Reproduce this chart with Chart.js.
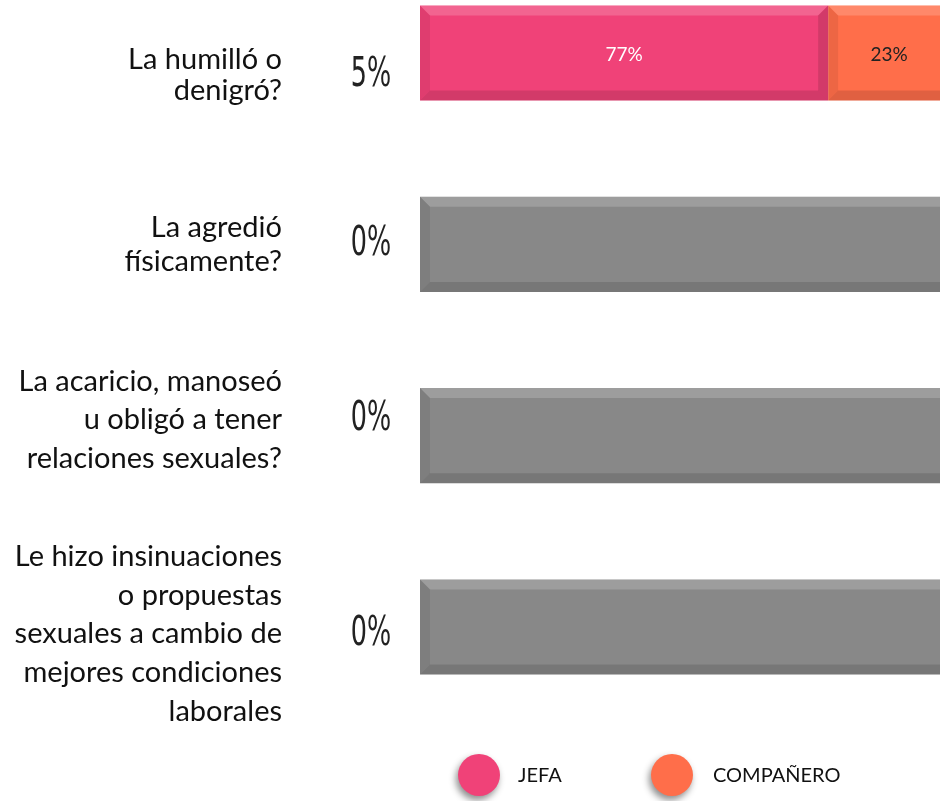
<!DOCTYPE html>
<html>
<head>
<meta charset="utf-8">
<script src="https://cdn.jsdelivr.net/npm/chart.js@4.4.0/dist/chart.umd.min.js"></script>
<style>
  html, body { margin: 0; padding: 0; background: #fff; }
  #wrap { width: 940px; height: 801px; position: relative; }
</style>
</head>
<body>
<div id="wrap"><canvas id="chart"></canvas></div>
<script>
// datos del gráfico
const categories = [
    ['La humilló o', 'denigró?'],
    ['La agredió', 'físicamente?'],
    ['La acaricio, manoseó', 'u obligó a tener', 'relaciones sexuales?'],
    ['Le hizo insinuaciones', 'o propuestas', 'sexuales a cambio de', 'mejores condiciones', 'laborales']
];
const totalPct = [5, 0, 0, 0];      // % que respondió sí
const jefa = [77, 0, 0, 0];
const companero = [23, 0, 0, 0];
const sinCasos = [0, 100, 100, 100];
const legendNames = ['JEFA', 'COMPAÑERO'];

// estilos
const colors = { jefa: '#F04278', companero: '#FF6E4A', gris: '#888888' };
const labelLineGap = [31, 34, 38.5, 38.7];
const labelShift = [22, 0, -16, 7];

// etiquetas de categorías y porcentaje total
const sideLabels = {
    id: 'sideLabels',
    afterDraw(chart) {
        const ctx = chart.ctx;
        const y = chart.scales.y;
        ctx.save();
        categories.forEach((lines, i) => {
            const cy = y.getPixelForValue(i) + labelShift[i];
            const gap = labelLineGap[i];
            const top = cy - (lines.length - 1) * gap / 2;
            ctx.fillStyle = '#111';
            ctx.font = '29px Lato';
            ctx.textAlign = 'right';
            ctx.textBaseline = 'middle';
            lines.forEach((ln, k) => ctx.fillText(ln, 282, top + k * gap));

            // porcentaje total, letra condensada
            ctx.save();
            ctx.translate(371, cy);
            ctx.scale(0.62, 1);
            ctx.font = '41px "DejaVu Sans"';
            ctx.textAlign = 'center';
            ctx.fillStyle = '#222';
            ctx.fillText(totalPct[i] + '%', 0, 0);
            ctx.restore();
        });
        ctx.restore();
    }
};

// efecto biselado + valores dentro de las barras
const bevel = {
    id: 'bevel',
    afterDatasetsDraw(chart) {
        const ctx = chart.ctx;
        const b = 10;
        ctx.save();
        chart.data.datasets.forEach((ds, di) => {
            const meta = chart.getDatasetMeta(di);
            meta.data.forEach((el, i) => {
                if (!ds.data[i]) return;
                const l = Math.min(el.base, el.x), r = Math.max(el.base, el.x);
                const t = el.y - el.height / 2, bo = el.y + el.height / 2;
                const poly = (pts, fill) => {
                    ctx.beginPath();
                    ctx.moveTo(pts[0][0], pts[0][1]);
                    pts.slice(1).forEach(p => ctx.lineTo(p[0], p[1]));
                    ctx.closePath();
                    ctx.fillStyle = fill;
                    ctx.fill();
                };
                poly([[l, t], [r, t], [r - b, t + b], [l + b, t + b]], 'rgba(255,255,255,0.18)');
                poly([[l, bo], [r, bo], [r - b, bo - b], [l + b, bo - b]], 'rgba(0,0,0,0.12)');
                poly([[l, t], [l + b, t + b], [l + b, bo - b], [l, bo]], 'rgba(0,0,0,0.07)');
                poly([[r, t], [r - b, t + b], [r - b, bo - b], [r, bo]], 'rgba(0,0,0,0.12)');

                if (di < 2) {
                    ctx.font = '19px Lato';
                    ctx.textAlign = 'center';
                    ctx.textBaseline = 'middle';
                    ctx.fillStyle = di === 0 ? '#fff' : '#222';
                    ctx.fillText(ds.data[i] + '%', (l + r) / 2, el.y + 2);
                }
            });
        });
        ctx.restore();
    }
};

// leyenda con círculos
const circleLegend = {
    id: 'circleLegend',
    afterDraw(chart) {
        const ctx = chart.ctx;
        const items = [
            { name: legendNames[0], color: colors.jefa, cx: 479, tx: 518 },
            { name: legendNames[1], color: colors.companero, cx: 672, tx: 713 }
        ];
        const cy = 775;
        ctx.save();
        items.forEach(it => {
            ctx.save();
            ctx.shadowColor = 'rgba(0,0,0,0.45)';
            ctx.shadowBlur = 7;
            ctx.shadowOffsetX = -2;
            ctx.shadowOffsetY = 4;
            ctx.beginPath();
            ctx.arc(it.cx, cy, 21, 0, Math.PI * 2);
            ctx.fillStyle = it.color;
            ctx.fill();
            ctx.restore();
            ctx.font = '20px Lato';
            ctx.fillStyle = '#111';
            ctx.textAlign = 'left';
            ctx.textBaseline = 'middle';
            ctx.fillText(it.name, it.tx, cy + 1);
        });
        ctx.restore();
    }
};

new Chart(document.getElementById('chart'), {
    type: 'bar',
    data: {
        labels: categories,
        datasets: [
            { label: legendNames[0], data: jefa, backgroundColor: colors.jefa },
            { label: legendNames[1], data: companero, backgroundColor: colors.companero },
            { label: 'NINGUNO', data: sinCasos, backgroundColor: colors.gris }
        ]
    },
    options: {
        indexAxis: 'y',
        responsive: true,
        maintainAspectRatio: false,
        animation: false,
        layout: { padding: { left: 420, right: 0, top: 53, bottom: 174 } },
        datasets: { bar: { categoryPercentage: 1, barPercentage: 0.497, clip: false } },
        scales: {
            x: { stacked: true, min: 0, max: 98.1, display: false },
            y: { stacked: true, offset: false, display: false }
        },
        plugins: {
            legend: { display: false },
            tooltip: { enabled: false }
        }
    },
    plugins: [bevel, sideLabels, circleLegend]
});
</script>
</body>
</html>
